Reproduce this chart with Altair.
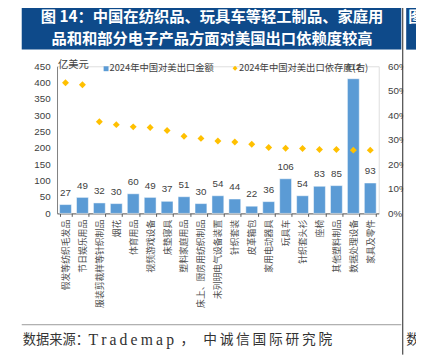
import altair as alt
import pandas as pd

categories = [
    "假发等纺织毛发品", "节日娱乐用品", "服装剪裁样等针织制品", "烟花", "体育用品",
    "视频游戏设备", "床垫寝具", "塑料家庭用品", "床上、厨房用纺织制品", "未列明电气设备装置",
    "针织套装", "皮革箱包", "家用电动器具", "玩具车", "针织套头衫",
    "座椅", "其他塑料制品", "数据处理设备", "家具及零件",
]
export_amount = [27, 49, 32, 30, 60, 49, 37, 51, 30, 54, 44, 22, 36, 106, 54, 83, 85, 412, 93]
dependency = [0.533, 0.525, 0.374, 0.362, 0.353, 0.350, 0.338, 0.315, 0.306, 0.295,
              0.291, 0.282, 0.269, 0.266, 0.265, 0.261, 0.261, 0.258, 0.258]
left_ticks = [0, 50, 100, 150, 200, 250, 300, 350, 400, 450]
right_ticks = [0, 0.1, 0.2, 0.3, 0.4, 0.5, 0.6]

title_line1 = "图 14：中国在纺织品、玩具车等轻工制品、家庭用"
title_line2 = "品和和部分电子产品方面对美国出口依赖度较高"
legend_bar = "2024年中国对美出口金额"
legend_point = "2024年中国对美出口依存度(右)"
unit_label = "亿美元"

df = pd.DataFrame({"cat": categories, "amt": export_amount, "dep": dependency})
one = pd.DataFrame({"a": [0]})

BLUE = "#0E4A8A"
CJK = "Noto Sans CJK SC"
NUM = "Liberation Sans"

x_enc = alt.X(
    "cat:N", sort=categories,
    scale=alt.Scale(paddingInner=0.3, paddingOuter=0.15),
    axis=alt.Axis(title=None, labelAngle=-90, labelFont=CJK, labelFontSize=9,
                  labelColor="#505050", domainColor="#595959", tickColor="#595959",
                  tickSize=3, tickBand="extent", labelPadding=3, labelLimit=200),
)

y_left = alt.Y(
    "amt:Q", scale=alt.Scale(domain=[0, 450]),
    axis=alt.Axis(title=None, values=left_ticks, grid=False, ticks=False, labelPadding=7,
                  labelFont=NUM, labelFontSize=10, labelColor="#404040",
                  domainColor="#7F7F7F"),
)

bars = alt.Chart(df).mark_bar(color="#5B9BD5", stroke="white", strokeWidth=0.5).encode(
    x=x_enc, y=y_left)
bar_labels = alt.Chart(df).mark_text(
    dy=-12, font=NUM, fontSize=10, color="#404040", baseline="middle").encode(
    x=x_enc, y=y_left, text="amt:Q")
left_group = alt.layer(bars, bar_labels)

points = alt.Chart(df).mark_point(shape="diamond", filled=True, color="#FFC000",
                                  size=50, opacity=1).encode(
    x=x_enc,
    y=alt.Y("dep:Q", scale=alt.Scale(domain=[0, 0.6]),
            axis=alt.Axis(orient="right", title=None, format="0%", values=right_ticks,
                          grid=False, ticks=False, domain=False, labelPadding=9,
                          labelFont=NUM, labelFontSize=10, labelColor="#404040")),
)

base = alt.Chart(one)

title_box = base.mark_rect(color=BLUE).encode(
    x=alt.value(-36), x2=alt.value(351), y=alt.value(-61), y2=alt.value(-17))
t1 = base.mark_text(text=title_line1, font=CJK, fontSize=15.6, fontWeight="bold",
                    color="white", align="center", baseline="middle").encode(
    x=alt.value(158), y=alt.value(-50))
t2 = base.mark_text(text=title_line2, font=CJK, fontSize=15.6, fontWeight="bold",
                    color="white", align="center", baseline="middle").encode(
    x=alt.value(158), y=alt.value(-28))

unit = base.mark_text(text=unit_label, font=CJK, fontSize=10.5, color="#404040",
                      align="left", baseline="middle").encode(
    x=alt.value(1), y=alt.value(-1))

leg_sq = base.mark_rect(color="#5B9BD5").encode(
    x=alt.value(47.5), x2=alt.value(52.5), y=alt.value(0), y2=alt.value(5))
leg_t1 = base.mark_text(text=legend_bar, font=CJK, fontSize=9.5, color="#404040",
                        align="left", baseline="middle").encode(
    x=alt.value(53.5), y=alt.value(2.3))
leg_dm = base.mark_point(shape="diamond", filled=True, color="#FFC000", size=25,
                         opacity=1).encode(x=alt.value(181.5), y=alt.value(2))
leg_t2 = base.mark_text(text=legend_point, font=CJK, fontSize=9.5, color="#404040",
                        align="left", baseline="middle").encode(
    x=alt.value(185.5), y=alt.value(2.3))

cover = base.mark_rect(color="white").encode(
    x=alt.value(353), x2=alt.value(370), y=alt.value(-20), y2=alt.value(160))
sep = base.mark_rule(color="#222222", strokeWidth=1).encode(
    x=alt.value(352.5), y=alt.value(-64), y2=alt.value(294))
nb_box = base.mark_rect(color=BLUE).encode(
    x=alt.value(356), x2=alt.value(370), y=alt.value(-61), y2=alt.value(-17))
nb_t = base.mark_text(text="图", font=CJK, fontSize=15.6, fontWeight="bold",
                      color="white", align="left", baseline="middle").encode(
    x=alt.value(358), y=alt.value(-50))

bottom_line = base.mark_rule(color="#9A9A9A", strokeWidth=1).encode(
    x=alt.value(-36), x2=alt.value(351), y=alt.value(263.5))
src1 = base.mark_text(text="数据来源：", font=CJK, fontSize=13.5, color="#333333",
                      align="left", baseline="middle").encode(
    x=alt.value(-35), y=alt.value(279))
src2 = base.mark_text(text="\u2009".join("Trademap"), font="Liberation Serif", fontSize=16,
                      color="#333333", align="left", baseline="middle").encode(
    x=alt.value(32), y=alt.value(279))
src2c = base.mark_text(text="，", font=CJK, fontSize=14,
                       color="#333333", align="left", baseline="middle").encode(
    x=alt.value(126), y=alt.value(279))
src3 = base.mark_text(text="\u2009".join("中诚信国际研究院"), font=CJK, fontSize=14,
                      color="#333333", align="left", baseline="middle").encode(
    x=alt.value(149), y=alt.value(279))
nb_src = base.mark_text(text="数", font=CJK, fontSize=13.5, color="#333333",
                        align="left", baseline="middle").encode(
    x=alt.value(356), y=alt.value(279))

chart = alt.layer(
    left_group, points,
    title_box, t1, t2, unit, leg_sq, leg_t1, leg_dm, leg_t2,
    cover, sep, nb_box, nb_t, bottom_line, src1, src2, src2c, src3, nb_src,
).resolve_scale(y="independent").properties(
    width=328, height=150,
    padding={"left": 50, "top": 56, "right": 38, "bottom": 144},
    autosize=alt.AutoSizeParams(type="none"),
).configure_view(stroke=None).configure(background="white")

chart.save("out.html", embed_options={"renderer": "svg", "actions": False})
